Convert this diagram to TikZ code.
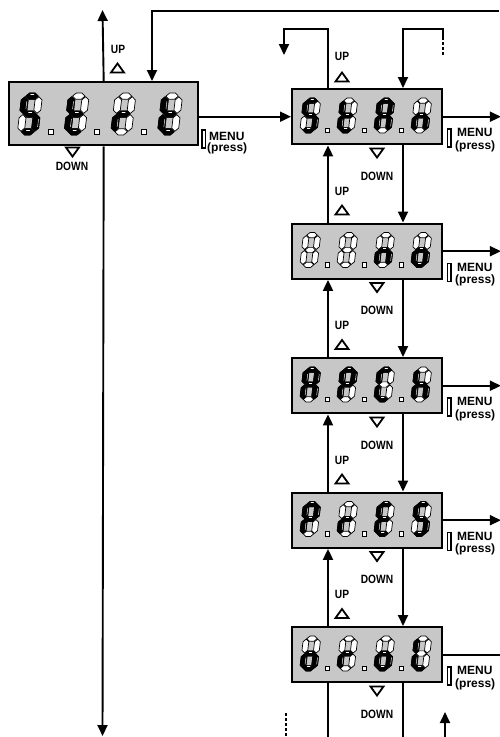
\documentclass[tikz,border=0pt]{standalone}
\usepackage{fontspec}
\setmainfont{Liberation Sans}
\newfontfamily\labfont[FakeStretch=0.85]{Liberation Sans}
\usetikzlibrary{arrows.meta,calc}
% segment shapes (local units, y up)
\def\sga{(0.18,1.85) -- (0.33,2.00) -- (0.57,2.00) -- (0.72,1.85) -- (0.57,1.70) -- (0.33,1.70) -- cycle}
\def\sgg{(0.18,1.00) -- (0.33,1.15) -- (0.57,1.15) -- (0.72,1.00) -- (0.57,0.85) -- (0.33,0.85) -- cycle}
\def\sgd{(0.18,0.15) -- (0.33,0.30) -- (0.57,0.30) -- (0.72,0.15) -- (0.57,0.00) -- (0.33,0.00) -- cycle}
\def\sgf{(0.15,1.03) -- (0.30,1.18) -- (0.30,1.67) -- (0.15,1.82) -- (0.00,1.67) -- (0.00,1.18) -- cycle}
\def\sgb{(0.75,1.03) -- (0.90,1.18) -- (0.90,1.67) -- (0.75,1.82) -- (0.60,1.67) -- (0.60,1.18) -- cycle}
\def\sge{(0.15,0.18) -- (0.30,0.33) -- (0.30,0.82) -- (0.15,0.97) -- (0.00,0.82) -- (0.00,0.33) -- cycle}
\def\sgc{(0.75,0.18) -- (0.90,0.33) -- (0.90,0.82) -- (0.75,0.97) -- (0.60,0.82) -- (0.60,0.33) -- cycle}
\def\sgx{}
% highlights of lit segments (thin glints near one edge)
\def\hla{(0.38,1.95) -- (0.52,1.95)}
\def\hlg{(0.38,1.10) -- (0.52,1.10)}
\def\hld{(0.38,0.25) -- (0.52,0.25)}
\def\hlf{(0.25,1.24) -- (0.25,1.60)}
\def\hlb{(0.85,1.24) -- (0.85,1.60)}
\def\hle{(0.25,0.39) -- (0.25,0.76)}
\def\hlc{(0.85,0.39) -- (0.85,0.76)}
\def\hlx{}
\newcommand\segdig[4]{%
  \begin{scope}[shift={(#1,#2)}, xslant=0.12, scale=#3, xscale=1.1, yscale=-1]
    \foreach \s in {a,b,c,d,e,f,g} {\filldraw[segoff] \csname sg\s\endcsname;}
    \foreach \s in {#4} {\filldraw[segon] \csname sg\s\endcsname;
                         \draw[seghl] \csname hl\s\endcsname;}
  \end{scope}}
\newcommand\dpoint[3]{\filldraw[segoff] ($(#1,#2)+(1.47*#3,-0.27*#3)$) rectangle ++(0.24*#3,0.24*#3);}
% #1 x0, #2 ybottom, #3 scale, #4 pitch, #5-#8 lit lists
\newcommand\fourdig[8]{%
  \segdig{#1}{#2}{#3}{#5}\dpoint{#1}{#2}{#3}
  \segdig{#1+#4}{#2}{#3}{#6}\dpoint{#1+#4}{#2}{#3}
  \segdig{#1+2*#4}{#2}{#3}{#7}\dpoint{#1+2*#4}{#2}{#3}
  \segdig{#1+3*#4}{#2}{#3}{#8}}
\newcommand\uptri[2]{\draw[tri] (#1-6.5,#2+4.5) -- (#1+6.5,#2+4.5) -- (#1,#2-4.5) -- cycle;}
\newcommand\dntri[2]{\draw[tri] (#1-6.5,#2-4.5) -- (#1+6.5,#2-4.5) -- (#1,#2+4.5) -- cycle;}
\begin{document}
\begin{tikzpicture}[x=1pt,y=-1pt,
  disp/.style={draw, line width=2.4pt, fill=black!22, inner sep=0pt, anchor=north west},
  conn/.style={line width=1.9pt},
  arr/.style={conn, -{Triangle[length=11pt,width=10pt]}},
  dotline/.style={line width=1.9pt, dash pattern=on 3pt off 2pt},
  lbl/.style={font=\labfont\bfseries\fontsize{12}{12}\selectfont, inner sep=0pt},
  mlbl/.style={font=\bfseries\fontsize{12}{12}\selectfont, inner sep=0pt, anchor=west},
  tri/.style={draw, line width=1.8pt, fill=white, line join=miter},
  segoff/.style={fill=white, draw=black, line width=0.7pt},
  segon/.style={fill=black, draw=black, line width=0.7pt},
  seghl/.style={draw=white, line width=0.45pt, line cap=round},
  mbox/.style={draw, line width=1.3pt, fill=white}]
\useasboundingbox (0,0) rectangle (499,737);
\fill[white] (0,0) rectangle (499,737);

% ---- left display ----
\node[disp, minimum width=189pt, minimum height=63pt] (L) at (8,81) {};
\fourdig{17}{135}{21}{46.7}{a,f,g,c,d}{f,g,e,d}{g,e}{f,g,e,d}
\coordinate (Ltop) at (102.5,10);
\coordinate (Lbot) at (102.5,736);
\coordinate (Lin) at (152,81);
\coordinate (topR) at (499,11);
\draw[arr] (L.north) -- (Ltop);
\draw[arr] (L.south) -- (Lbot);
\draw[arr] (topR) -| (Lin);
\node[lbl] (lup) at (118,49) {UP};
\uptri{117.5}{68}
\dntri{72.5}{152}
\node[lbl] (ldown) at (72,166) {DOWN};
\draw[mbox] (202,130) rectangle (205.5,148);
\node[mlbl] (lmenu) at (209,136) {MENU};
\node[mlbl] (lpress) at (207,148.5) {(press)};

% ---- right displays ----
\node[disp, minimum width=150pt, minimum height=55pt] (R1) at (291,88) {};
\node[disp, minimum width=150pt, minimum height=55pt] (R2) at (291,222.5) {};
\node[disp, minimum width=150pt, minimum height=55pt] (R3) at (291,357) {};
\node[disp, minimum width=150pt, minimum height=55pt] (R4) at (291,491.5) {};
\node[disp, minimum width=150pt, minimum height=55pt] (R5) at (291,626) {};

\fourdig{299.5}{133}{17.5}{37}{a,f,g,c,d}{f,g,e,d}{a,b,c,e,f,g}{g,e,c}
\fourdig{299.5}{267.5}{17.5}{37}{x}{x}{g,e,c}{g,e,d,c}
\fourdig{299.5}{402}{17.5}{37}{a,b,c,e,f,g}{a,b,e,f,g}{a,f,e,d}{f,e,g,c}
\fourdig{299.5}{536.5}{17.5}{37}{a,b,e,f,g}{g,e}{a,f,g,e,d}{a,f,g,c,d}
\fourdig{299.5}{671}{17.5}{37}{g,e,d,c}{g,e}{g,e,d,c}{f,e,d}

\draw[arr] (L.east |- R1.west) -- (R1.west);

% loops above R1
\coordinate (c1) at (284,29);
\coordinate (c2) at (284,55);
\draw[arr] ($(R1.north west)+(37,0)$) |- (c1) -- (c2);
\node[lbl] (tup) at (342,56) {UP};
\uptri{342}{77}
\coordinate (d1) at (443,38);
\coordinate (d0) at (443,29);
\coordinate (d2) at (443,55);
\draw[dotline] (d2) -- (d1);
\draw[arr] (d1) -- (d0) -| ($(R1.north west)+(112,0)$);

% vertical links between displays
\foreach \a/\b in {R1/R2,R2/R3,R3/R4,R4/R5}{
  \draw[arr] ($(\b.north west)+(37,0)$) -- ($(\a.south west)+(37,0)$);
  \draw[arr] ($(\a.south west)+(112,0)$) -- ($(\b.north west)+(112,0)$);
}
% labels between displays
\foreach \k/\B in {1/143,2/277.5,3/412,4/546.5,5/681}{
  \dntri{377}{\B+10}
  \node[lbl] (down\k) at (377,\B+33) {DOWN};
}
\foreach \k/\B in {1/143,2/277.5,3/412,4/546.5}{
  \node[lbl] (up\k) at (342,\B+48) {UP};
  \uptri{342}{\B+67}
}
% menu labels and outputs
\foreach \k in {1,...,5}{
  \draw[mbox] ($(R\k.north west)+(156.5,41)$) rectangle ++(3.5,18);
  \node[mlbl] (menu\k) at ($(R\k.north west)+(166,44.5)$) {MENU};
  \node[mlbl] (press\k) at ($(R\k.north west)+(164,58)$) {(press)};
}
\foreach \k in {1,...,4}{
  \draw[arr] (R\k.east) -- ++(57.5,0);
}
\draw[conn] (R5.east) -- ++(58,0);

% bottom
\coordinate (b1) at (328,737);
\coordinate (b2) at (403,737);
\draw[conn] ($(R5.south west)+(37,0)$) -- (b1);
\draw[conn] ($(R5.south west)+(112,0)$) -- (b2);
\coordinate (e1) at (286,713);
\coordinate (e2) at (286,737);
\draw[dotline] (e1) -- (e2);
\coordinate (f1) at (445,737);
\coordinate (f2) at (445,712);
\draw[arr] (f1) -- (f2);
\end{tikzpicture}
\end{document}
